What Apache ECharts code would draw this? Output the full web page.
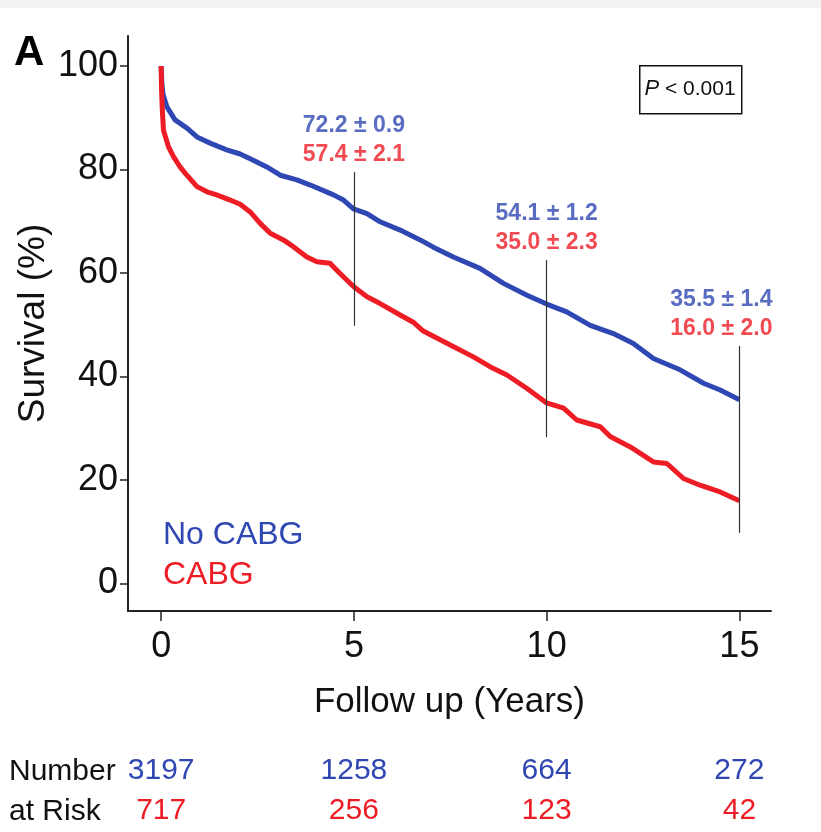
<!DOCTYPE html>
<html>
<head>
<meta charset="utf-8">
<script src="https://cdn.jsdelivr.net/npm/echarts@6/dist/echarts.min.js"></script>
<style>
  html, body { margin: 0; padding: 0; background: #fff; }
  #myChart { width: 821px; height: 832px; }
</style>
</head>
<body>
<div id="myChart"></div>
<script>
// Kaplan-Meier curves (years, survival %)
var noCabgYears = [0, 0.02, 0.05, 0.10, 0.15, 0.36, 0.67, 0.93, 1.27, 1.70, 2.05, 2.39, 2.74, 3.09, 3.52, 3.87, 4.47, 4.73, 4.99, 5.34, 5.68, 6.20, 6.72, 7.06, 7.58, 8.27, 8.88, 9.49, 10.0, 10.52, 11.13, 11.73, 12.25, 12.77, 13.46, 14.07, 14.50, 15.0];
var noCabgSurv  = [100, 96.5, 94.5, 93.3, 92.1, 89.6, 88.0, 86.3, 85.1, 83.8, 83.0, 81.8, 80.5, 78.9, 78.0, 77.0, 75.1, 74.1, 72.4, 71.5, 69.9, 68.3, 66.4, 65.0, 63.1, 60.9, 58.0, 55.7, 54.0, 52.5, 49.9, 48.3, 46.4, 43.5, 41.3, 38.7, 37.4, 35.5];
var cabgYears = [0, 0.01, 0.03, 0.06, 0.19, 0.32, 0.49, 0.62, 0.93, 1.19, 1.44, 1.79, 2.05, 2.31, 2.57, 2.83, 3.17, 3.43, 3.78, 4.04, 4.38, 4.64, 4.99, 5.34, 5.68, 6.20, 6.54, 6.80, 7.50, 8.10, 8.53, 8.97, 9.49, 10.0, 10.44, 10.78, 11.39, 11.65, 12.17, 12.77, 13.12, 13.55, 13.98, 14.50, 15.0];
var cabgSurv  = [100, 95.4, 91.5, 87.6, 84.4, 82.5, 80.5, 79.3, 76.7, 75.7, 75.1, 74.1, 73.3, 71.8, 69.6, 67.7, 66.4, 65.1, 63.1, 62.2, 61.9, 59.9, 57.4, 55.4, 54.1, 51.9, 50.5, 48.8, 46.1, 43.8, 41.9, 40.3, 37.7, 34.9, 33.9, 31.6, 30.3, 28.4, 26.4, 23.5, 23.2, 20.3, 19.0, 17.7, 16.0];

// survival estimates shown at 5, 10 and 15 years
var markYears   = [5, 10, 15];
var noCabgText  = ['72.2 ± 0.9', '54.1 ± 1.2', '35.5 ± 1.4'];
var cabgText    = ['57.4 ± 2.1', '35.0 ± 2.3', '16.0 ± 2.0'];
var guideLow    = [49.8, 28.3, 9.8];
var guideHigh   = [79.5, 62.5, 45.9];

// number at risk
var riskYears   = [0, 5, 10, 15];
var riskNoCabg  = [3197, 1258, 664, 272];
var riskCabg    = [717, 256, 123, 42];

var xTicks = [0, 5, 10, 15];
var yTicks = [0, 20, 40, 60, 80, 100];

var BLUE = '#2f47b2';
var RED = '#ee1d25';
var INK = '#111';
var FONT = "'Liberation Sans', Arial, sans-serif";

function pairs(xs, ys) {
    return xs.map(function (x, i) { return [x, ys[i]]; });
}

function riskAxis(values, color, offset) {
    return {
        type: 'value', min: -0.86, max: 15.82, position: 'bottom', offset: offset,
        axisLine: { show: false }, axisTick: { show: false }, splitLine: { show: false },
        axisLabel: {
            customValues: riskYears, margin: 8, fontSize: 30, fontFamily: FONT, color: color,
            formatter: function (v) { return values[riskYears.indexOf(v)]; }
        }
    };
}

var myChart = echarts.init(document.getElementById('myChart'), null, { renderer: 'canvas' });
myChart.setOption({
    animation: false,
    backgroundColor: '#fff',
    grid: { left: 128, right: 50, top: 36, bottom: 221 },
    legend: {
        left: 153, top: 514, orient: 'vertical', itemGap: 8,
        icon: 'rect', itemWidth: 0, itemHeight: 0, selectedMode: false,
        textStyle: { fontSize: 32, fontFamily: FONT },
        data: [
            { name: 'No CABG', textStyle: { color: BLUE } },
            { name: 'CABG', textStyle: { color: RED } }
        ]
    },
    xAxis: [
        {
            type: 'value', min: -0.86, max: 15.82,
            name: 'Follow up (Years)', nameLocation: 'middle', nameGap: 74,
            nameTextStyle: { fontSize: 35, fontFamily: FONT, color: INK },
            axisLine: { show: true, onZero: false, lineStyle: { color: '#222', width: 2 } },
            axisTick: { show: true, length: 10, customValues: xTicks, lineStyle: { color: '#222', width: 1.5 } },
            axisLabel: { customValues: xTicks, margin: 18, fontSize: 36, fontFamily: FONT, color: INK },
            splitLine: { show: false }
        },
        riskAxis(riskNoCabg, BLUE, 137),
        riskAxis(riskCabg, RED, 177)
    ],
    yAxis: {
        type: 'value', min: -5.3, max: 105.8,
        name: 'Survival (%)', nameLocation: 'middle', nameGap: 76, nameMoveOverlap: false,
        nameTextStyle: { fontSize: 37, fontFamily: FONT, color: INK },
        axisLine: { show: true, onZero: false, lineStyle: { color: '#222', width: 2 } },
        axisTick: { show: true, length: 8, customValues: yTicks, lineStyle: { color: '#222', width: 1.5 } },
        axisLabel: { customValues: yTicks, margin: 10, fontSize: 36, fontFamily: FONT, color: INK },
        splitLine: { show: false }
    },
    graphic: [
        { type: 'rect', left: 0, top: 0, shape: { width: 821, height: 8 }, style: { fill: '#f2f2f2' } },
        { type: 'text', left: 14, top: 32, style: { text: 'A', fontSize: 42, fontWeight: 'bold', fontFamily: FONT, fill: '#000' } },
        { type: 'rect', left: 639, top: 65, shape: { width: 102, height: 48 }, style: { fill: '#fff', stroke: '#111', lineWidth: 1.5 } },
        {
            type: 'text', x: 690, y: 89,
            style: {
                text: '{i|P}{n| < 0.001}', align: 'center', verticalAlign: 'middle',
                rich: {
                    i: { fontSize: 22, fontStyle: 'italic', fontFamily: FONT, fill: INK },
                    n: { fontSize: 21, fontFamily: FONT, fill: INK }
                }
            }
        },
        { type: 'text', left: 9, top: 757, style: { text: 'Number', fontSize: 30, fontFamily: FONT, fill: INK } },
        { type: 'text', left: 9, top: 797, style: { text: 'at Risk', fontSize: 30, fontFamily: FONT, fill: INK } }
    ],
    series: [
        {
            name: 'No CABG', type: 'line', showSymbol: false, z: 3,
            lineStyle: { color: BLUE, width: 5 }, itemStyle: { color: BLUE },
            data: pairs(noCabgYears, noCabgSurv)
        },
        {
            name: 'CABG', type: 'line', showSymbol: false, z: 3,
            lineStyle: { color: RED, width: 5 }, itemStyle: { color: RED },
            data: pairs(cabgYears, cabgSurv)
        },
        {
            // guide lines + blue estimates
            name: 'noCabgEst', type: 'scatter', symbolSize: 0, z: 4, silent: true,
            data: markYears.map(function (y, i) {
                return { value: [y, guideHigh[i]], label: { offset: [i === 2 ? -18 : 0, -46] } };
            }),
            label: {
                show: true, position: 'inside', fontSize: 23, fontWeight: 'bold', fontFamily: FONT, color: BLUE,
                formatter: function (p) { return noCabgText[p.dataIndex]; }
            },
            markLine: {
                silent: true, symbol: ['none', 'none'], label: { show: false },
                lineStyle: { color: '#333', width: 1.2, type: 'solid' },
                data: markYears.map(function (y, i) {
                    return [{ coord: [y, guideLow[i]] }, { coord: [y, guideHigh[i]] }];
                })
            }
        },
        {
            name: 'cabgEst', type: 'scatter', symbolSize: 0, z: 4, silent: true,
            data: markYears.map(function (y, i) {
                return { value: [y, guideHigh[i]], label: { offset: [i === 2 ? -18 : 0, -17] } };
            }),
            label: {
                show: true, position: 'inside', fontSize: 23, fontWeight: 'bold', fontFamily: FONT, color: RED,
                formatter: function (p) { return cabgText[p.dataIndex]; }
            }
        }
    ]
});
</script>
</body>
</html>
